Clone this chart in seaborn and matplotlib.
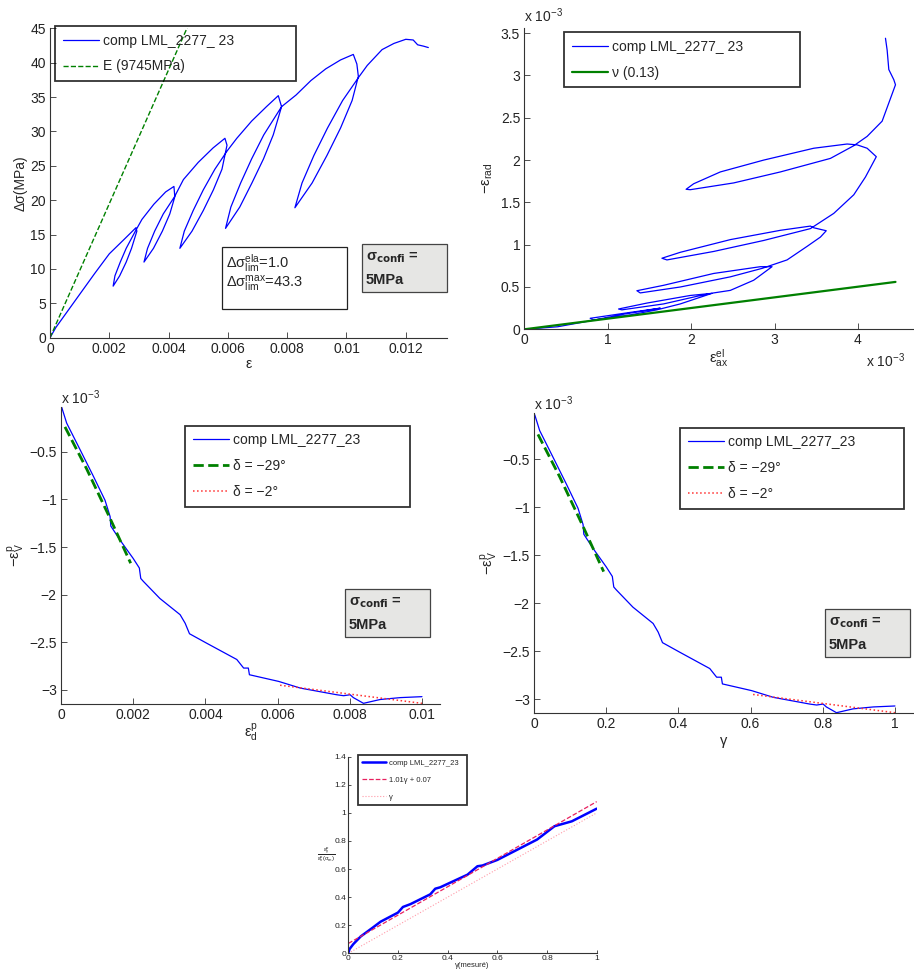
import matplotlib
matplotlib.use("Agg")
import matplotlib.pyplot as plt
import seaborn as sns
from matplotlib.patches import Rectangle
from matplotlib.ticker import FuncFormatter

# ---------------- data ----------------
# top left : stress-strain curve with unloading loops
eps_axial = [
    0.0, 0.0002, 0.0005, 0.001, 0.0015, 0.002, 0.0025, 0.0029,
    # loop 1
    0.00293, 0.00275, 0.00257, 0.00235, 0.00213, 0.00219, 0.00237, 0.00257, 0.00288,
    0.0031, 0.0035, 0.0039, 0.00418,
    # loop 2
    0.00421, 0.00404, 0.00379, 0.00349, 0.00317, 0.00329, 0.00353, 0.00382, 0.0042,
    0.0045, 0.0050, 0.0055, 0.0059,
    # loop 3
    0.00597, 0.0058, 0.00551, 0.00517, 0.00479, 0.00438,
    0.00453, 0.00483, 0.00517, 0.00556, 0.00598,
    0.0063, 0.0068, 0.0073, 0.0077,
    # loop 4
    0.00781, 0.00753, 0.0072, 0.00681, 0.0064, 0.00592,
    0.0061, 0.00643, 0.0068, 0.00721, 0.00781,
    0.0083, 0.0088, 0.0093, 0.0098, 0.01023,
    # loop 5
    0.01035, 0.0104, 0.01019, 0.0098, 0.00934, 0.00884, 0.00826,
    0.0085, 0.0089, 0.00936, 0.00987, 0.01043,
    0.0107, 0.0112, 0.0116, 0.0120, 0.01225, 0.0124, 0.0126, 0.01276,
]
delta_sigma = [
    0.0, 1.5, 3.3, 6.3, 9.3, 12.2, 14.3, 16.0,
    15.5, 13.0, 11.0, 9.0, 7.5, 9.0, 11.0, 13.0, 15.5,
    17.2, 19.4, 21.2, 22.0,
    20.5, 18.0, 15.5, 13.0, 11.0, 13.0, 15.5, 18.0, 20.5,
    23.0, 25.5, 27.6, 29.0,
    28.0, 24.5, 21.5, 18.5, 15.5, 13.0,
    15.5, 18.5, 21.5, 24.5, 27.2,
    29.0, 31.5, 33.6, 35.2,
    33.6, 29.5, 26.0, 22.5, 19.0, 15.9,
    19.0, 22.5, 26.0, 29.5, 33.6,
    35.3, 37.4, 39.1, 40.4, 41.2,
    39.8, 38.0, 34.5, 30.5, 26.5, 22.5, 18.9,
    22.5, 26.5, 30.5, 34.5, 38.0,
    39.6, 41.9, 42.8, 43.4, 43.3, 42.6, 42.4, 42.2,
]
young_eps = [0.0, 0.00467]
young_sig = [0.0, 45.5]

# top right : elastic axial strain vs radial strain (x 1e-3)
eps_ax_el = [
    0.0, 0.4, 0.79, 1.2, 1.63,
    1.27, 0.79, 0.83, 1.27, 1.59,
    1.87, 2.25,
    1.99, 1.47, 1.13, 1.17, 1.67, 2.07,
    2.27, 2.47, 2.75, 2.97,
    2.83, 2.27, 1.67, 1.35, 1.39, 1.87, 2.47, 2.85,
    3.15, 3.39, 3.55, 3.62,
    3.47, 3.43, 3.07, 2.47, 1.87, 1.65, 1.71, 2.27, 2.87, 3.43,
    3.71, 3.95, 4.09, 4.22,
    4.11, 3.99, 3.87, 3.47, 2.87, 2.35, 2.03, 1.94,
    1.99, 2.51, 3.07, 3.67, 3.95, 4.11,
    4.29, 4.45, 4.43, 4.37, 4.35, 4.33,
]
eps_rad = [
    0.0, 0.03, 0.10, 0.18, 0.25,
    0.20, 0.13, 0.11, 0.17, 0.23,
    0.30, 0.425,
    0.40, 0.31, 0.24, 0.23, 0.30, 0.39,
    0.43, 0.46, 0.58, 0.74,
    0.74, 0.66, 0.52, 0.456, 0.43, 0.50, 0.62, 0.72,
    0.82, 0.98, 1.09, 1.165,
    1.20, 1.22, 1.17, 1.06, 0.91, 0.84, 0.82, 0.92, 1.05, 1.19,
    1.37, 1.59, 1.80, 2.04,
    2.14, 2.18, 2.19, 2.14, 2.00, 1.86, 1.72, 1.655,
    1.65, 1.73, 1.86, 2.02, 2.17, 2.28,
    2.46, 2.89, 2.95, 3.07, 3.30, 3.44,
]
poisson_x = [0.0, 4.45]
poisson_y = [0.0, 0.56]

# middle : plastic volumetric strain vs plastic deviatoric strain (y x 1e-3)
eps_d_p = [
    0.00002, 0.000157, 0.00053, 0.0009, 0.00122, 0.00136, 0.00138, 0.00164,
    0.0020, 0.00217, 0.00221, 0.00228, 0.00274, 0.0033, 0.00344, 0.00356,
    0.00404, 0.00487, 0.00506, 0.00519, 0.00522, 0.00603, 0.00663, 0.00764,
    0.00783, 0.00801, 0.0081, 0.00838, 0.00884, 0.0094, 0.0100,
]
eps_v_p = [
    -0.035, -0.20, -0.48, -0.76, -1.01, -1.18, -1.28, -1.43,
    -1.62, -1.72, -1.83, -1.86, -2.04, -2.21, -2.30, -2.41,
    -2.51, -2.68, -2.77, -2.77, -2.84, -2.91, -2.98, -3.05,
    -3.06, -3.05, -3.08, -3.14, -3.10, -3.08, -3.07,
]
dil29_x = [0.00011, 0.00071, 0.00136, 0.00193]
dil29_y = [-0.24, -0.68, -1.20, -1.67]
dil2_x = [0.00607, 0.0100]
dil2_y = [-2.95, -3.14]

# bottom : gamma measured vs ratio
gamma_mes = [0.0, 0.005, 0.02, 0.05, 0.1, 0.13, 0.2, 0.22, 0.25, 0.33, 0.35, 0.37,
             0.48, 0.52, 0.54, 0.6, 0.76, 0.83, 0.86, 0.9, 1.0]
gamma_ratio = [0.0, 0.03, 0.065, 0.12, 0.185, 0.225, 0.29, 0.33, 0.35, 0.42, 0.46, 0.47,
               0.56, 0.62, 0.625, 0.665, 0.81, 0.905, 0.92, 0.94, 1.03]
fit_x = [0.0, 1.0]
fit_y = [0.07, 1.08]
ident_x = [0.0, 1.0]
ident_y = [0.0, 1.0]

# ---------------- style ----------------
sns.set_style("ticks")
plt.rcParams["font.family"] = ["Liberation Sans", "DejaVu Sans"]
plt.rcParams["mathtext.fontset"] = "dejavusans"
plt.rcParams["mathtext.default"] = "regular"
plt.rcParams["axes.unicode_minus"] = True

W, H = 914, 977
fig = plt.figure(figsize=(W / 100, H / 100), dpi=100)

BLUE = "#0000ff"
GREEN = "#008000"
AXC = "#333333"


def px_axes(left, top, right, bottom):
    return fig.add_axes([left / W, 1 - bottom / H, (right - left) / W, (bottom - top) / H])


def fmt(v, pos):
    return f"{v:g}".replace("-", "\u2212")


def style_axes(ax, size=10):
    sns.despine(ax=ax)
    for side in ("left", "bottom"):
        ax.spines[side].set_color(AXC)
        ax.spines[side].set_linewidth(0.8)
    ax.tick_params(direction="in", length=4, width=0.6, color=AXC,
                   labelsize=size, labelcolor="#222222", pad=3)
    ax.xaxis.set_major_formatter(FuncFormatter(fmt))
    ax.yaxis.set_major_formatter(FuncFormatter(fmt))


def px_box(x0, y0, x1, y1, face, edge="#333333", lw=0.9):
    fig.add_artist(Rectangle((x0 / W, 1 - y1 / H), (x1 - x0) / W, (y1 - y0) / H,
                             transform=fig.transFigure, facecolor=face,
                             edgecolor=edge, linewidth=lw))


def px_text(x, y, s, **kw):
    fig.text(x / W, 1 - y / H, s, **kw)


def legend(ax, x0, y0, x1, y1, size, spacing, hlen):
    bb = ax.transAxes.inverted().transform(fig.transFigure.transform(
        [[x0 / W, 1 - y1 / H], [x1 / W, 1 - y0 / H]]))
    leg = ax.legend(loc="upper left", bbox_to_anchor=(bb[0, 0], bb[0, 1], bb[1, 0] - bb[0, 0], bb[1, 1] - bb[0, 1]),
                    mode="expand", borderaxespad=0, fancybox=False,
                    fontsize=size, labelspacing=spacing, handlelength=hlen,
                    handletextpad=0.3, borderpad=0.55)
    leg.get_frame().set_edgecolor("black")
    leg.get_frame().set_facecolor("none")
    leg.get_frame().set_linewidth(1.3)
    return leg


def confi_box(x0, y0):
    px_box(x0, y0, x0 + 85, y0 + 48, "#e6e6e4", edge="#444444", lw=0.9)
    px_text(x0 + 4, y0 + 14, r"$\sigma_{\mathbf{confi}}$ =", fontsize=10.5,
            fontweight="bold", va="center")
    px_text(x0 + 4, y0 + 36, "5MPa", fontsize=10.5, fontweight="bold", va="center")


# ---------------- top left ----------------
ax1 = px_axes(50, 28.3, 447, 337.7)
sns.lineplot(x=eps_axial, y=delta_sigma, sort=False, estimator=None, ax=ax1,
             color=BLUE, lw=0.9, label="comp LML_2277_ 23")
sns.lineplot(x=young_eps, y=young_sig, sort=False, estimator=None, ax=ax1,
             color=GREEN, lw=1.0, linestyle="--", label="E (9745MPa)")
ax1.set_xlim(0, 0.01339)
ax1.set_ylim(0, 45)
ax1.set_xticks([0, 0.002, 0.004, 0.006, 0.008, 0.01, 0.012])
ax1.set_yticks(range(0, 46, 5))
style_axes(ax1)
ax1.set_xlabel("ε", fontsize=10, labelpad=1)
ax1.set_ylabel("Δσ(MPa)", fontsize=10, labelpad=2)
legend(ax1, 55, 26, 296, 81, 10, 0.85, 2.6)

px_box(222, 247, 347, 309, "white", edge="#222222", lw=0.9)
px_text(226, 263, r"$\Delta\sigma^{ela}_{lim}$=1.0", fontsize=10.5, va="center")
px_text(226, 284, r"$\Delta\sigma^{max}_{lim}$=43.3", fontsize=10.5, va="center")
confi_box(362, 244)

# ---------------- top right ----------------
ax2 = px_axes(524.3, 28.1, 913, 329.3)
sns.lineplot(x=eps_ax_el, y=eps_rad, sort=False, estimator=None, ax=ax2,
             color=BLUE, lw=0.9, label="comp LML_2277_ 23")
sns.lineplot(x=poisson_x, y=poisson_y, sort=False, estimator=None, ax=ax2,
             color=GREEN, lw=1.6, label="ν (0.13)")
ax2.set_xlim(0, 4.66)
ax2.set_ylim(0, 3.56)
ax2.set_xticks([0, 1, 2, 3, 4])
ax2.set_yticks([0, 0.5, 1, 1.5, 2, 2.5, 3, 3.5])
style_axes(ax2)
ax2.set_xlabel(r"$\varepsilon^{el}_{ax}$", fontsize=10.5, labelpad=0)
ax2.set_ylabel(r"$-\varepsilon_{rad}$", fontsize=10.5, labelpad=4)
legend(ax2, 564, 32.3, 800, 87.7, 10, 0.85, 2.6)
px_text(524, 16, r"x 10$^{-3}$", fontsize=10, va="center")
px_text(866, 361, r"x 10$^{-3}$", fontsize=10, va="center")

# ---------------- middle left ----------------
ax3 = px_axes(61, 406.7, 440, 704)
sns.lineplot(x=eps_d_p, y=eps_v_p, sort=False, estimator=None, ax=ax3,
             color=BLUE, lw=0.9, label="comp LML_2277_23")
sns.lineplot(x=dil29_x, y=dil29_y, sort=False, estimator=None, ax=ax3,
             color=GREEN, lw=2.0, linestyle="--", label="δ = −29°")
sns.lineplot(x=dil2_x, y=dil2_y, sort=False, estimator=None, ax=ax3,
             color="#ff3030", lw=1.1, linestyle=":", label="δ = −2°")
ax3.set_xlim(0, 0.0105)
ax3.set_ylim(-3.147, -0.028)
ax3.set_xticks([0, 0.002, 0.004, 0.006, 0.008, 0.01])
ax3.set_yticks([-3, -2.5, -2, -1.5, -1, -0.5])
style_axes(ax3)
ax3.set_xlabel(r"$\varepsilon^{p}_{d}$", fontsize=10.5, labelpad=0)
ax3.set_ylabel(r"$-\varepsilon^{p}_{V}$", fontsize=10.5, labelpad=2)
legend(ax3, 185, 425.7, 410, 505.7, 10, 0.85, 2.6)
px_text(61, 398, r"x 10$^{-3}$", fontsize=10, va="center")
confi_box(345, 589)

# ---------------- middle right ----------------
gamma = [v / eps_d_p[-1] for v in eps_d_p]
gamma29 = [v / eps_d_p[-1] for v in dil29_x]
gamma2 = [v / eps_d_p[-1] for v in dil2_x]
ax4 = px_axes(534, 413.3, 913, 712.7)
sns.lineplot(x=gamma, y=eps_v_p, sort=False, estimator=None, ax=ax4,
             color=BLUE, lw=0.9, label="comp LML_2277_23")
sns.lineplot(x=gamma29, y=dil29_y, sort=False, estimator=None, ax=ax4,
             color=GREEN, lw=2.0, linestyle="--", label="δ = −29°")
sns.lineplot(x=gamma2, y=dil2_y, sort=False, estimator=None, ax=ax4,
             color="#ff3030", lw=1.1, linestyle=":", label="δ = −2°")
ax4.set_xlim(0, 1.05)
ax4.set_ylim(-3.14, -0.02)
ax4.set_xticks([0, 0.2, 0.4, 0.6, 0.8, 1])
ax4.set_yticks([-3, -2.5, -2, -1.5, -1, -0.5])
style_axes(ax4)
ax4.set_xlabel("γ", fontsize=10.5, labelpad=2)
ax4.set_ylabel(r"$-\varepsilon^{p}_{V}$", fontsize=10.5, labelpad=2)
legend(ax4, 680, 427.7, 904.3, 507.3, 10, 0.85, 2.6)
px_text(534, 404, r"x 10$^{-3}$", fontsize=10, va="center")
confi_box(825, 609)

# ---------------- bottom ----------------
ax5 = px_axes(348.3, 756.7, 596.7, 953.3)
sns.lineplot(x=gamma_mes, y=gamma_ratio, sort=False, estimator=None, ax=ax5,
             color=BLUE, lw=1.8, label="comp LML_2277_23")
sns.lineplot(x=fit_x, y=fit_y, sort=False, estimator=None, ax=ax5,
             color="#e8205f", lw=0.9, linestyle="--", label="1.01γ + 0.07")
sns.lineplot(x=ident_x, y=ident_y, sort=False, estimator=None, ax=ax5,
             color="#ff9aa8", lw=0.8, linestyle=":", label="γ")
ax5.set_xlim(0, 1)
ax5.set_ylim(0, 1.4)
ax5.set_xticks([0, 0.2, 0.4, 0.6, 0.8, 1])
ax5.set_yticks([0, 0.2, 0.4, 0.6, 0.8, 1, 1.2, 1.4])
style_axes(ax5, size=6)
ax5.tick_params(length=2.5, pad=1.5)
ax5.set_xlabel("γ(mesuré)", fontsize=5.5, labelpad=0)
ax5.set_ylabel(r"$\frac{\varepsilon^p_\gamma}{\varepsilon^p_v(\sigma_m)}$", fontsize=6,
               rotation=0, labelpad=6, va="center")
legend(ax5, 357.7, 755, 466.7, 808.3, 5.5, 1.3, 3.2)

fig.savefig("out.png", dpi=100)
